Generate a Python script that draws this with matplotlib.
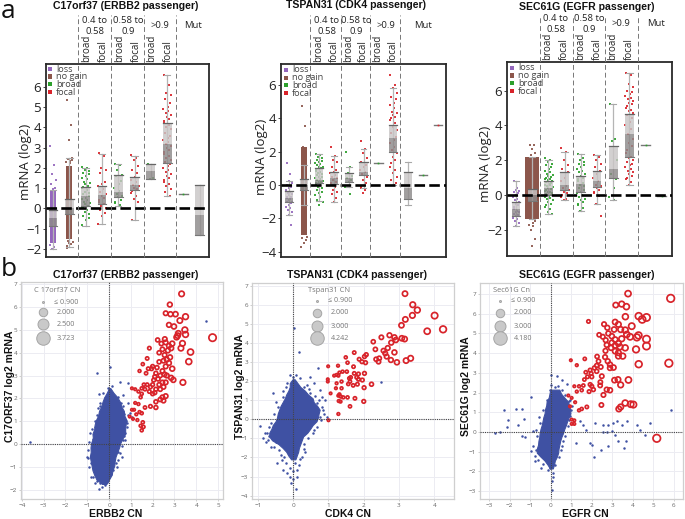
import matplotlib
matplotlib.use("Agg")
import matplotlib.pyplot as plt
from matplotlib.patches import Rectangle

plt.rcParams['font.family'] = ['Open Sans', 'DejaVu Sans']
W, H = 685, 519

PURPLE = '#9467bd'
BROWN = '#8c564b'
GREEN = '#2ca02c'
RED = '#d8232a'
BLUE = '#3f51a3'

legend_names = ['loss', 'no gain', 'broad', 'focal']
legend_colors = [PURPLE, BROWN, GREEN, RED]
group_kinds = ['broad', 'focal', 'broad', 'focal', 'broad', 'focal']
group_names = ['0.4 to\n0.58', '0.58 to\n0.9', '>0.9', 'Mut']
JITTER = [-.22, .12, -.05, .25, -.15, .2, .03, -.27, .08, -.1, .28, -.02, .16, -.19]

# box values: position, low whisker, q1, median, q3, high whisker
a1_boxes = [(0, -2.0, -.87, -.48, -.1, .9), (1, -1.9, -.28, 0, .47, 2.5), (2, -.9, .1, .6, 1.03, 2.0),
            (3, -.8, .22, .65, 1.1, 2.7), (4, .1, .55, .8, 1.65, 2.2), (5, -.6, .9, 1.15, 1.57, 2.6),
            (6, 1.47, 1.47, 1.85, 2.2, 2.2), (7, .6, 2.25, 3.2, 4.2, 6.6), (9, -1.33, -1.33, -.32, 1.15, 1.15)]
a2_boxes = [(0, -1.8, -1.05, -.8, -.35, .25), (1, -1.2, -.3, 0, .35, 1.2), (2, -.95, .1, .3, 1.0, 1.85),
            (3, -1.0, .05, .4, .8, 1.75), (4, -.1, .2, .4, .7, 1.1), (5, -.2, .6, .8, 1.35, 2.15),
            (7, 0, 2.0, 2.8, 3.6, 5.8), (8, -1.2, -.85, -.2, .75, 1.4)]
a3_boxes = [(0, -1.8, -1.2, -.8, -.4, .8), (1, -1.4, -.35, 0, .35, 2.2), (2, -1.1, 0, .4, .8, 2.0),
            (3, -.3, .3, .55, 1.3, 2.45), (4, -.9, .2, .65, 1.1, 2.35), (5, -.5, .45, .8, 1.4, 2.3),
            (6, -.3, 1.0, 1.5, 2.8, 5.25), (7, .6, 2.2, 3.5, 4.65, 7.0)]

# single value groups: position, value, colour
a1_single = [(8, .7, GREEN)]
a2_single = [(6, 1.3, GREEN), (9, .6, GREEN), (10, 3.6, RED)]
a3_single = [(8, 2.85, GREEN), (9, -.05, GREEN)]

# solid parts of the strips, too dense to read one by one: position, low, high, half width
a1_bands = [(0, -1.7, .9, .2, PURPLE), (1, -1.5, 2.1, .19, BROWN)]
a2_bands = [(1, -3.0, 2.25, .18, BROWN)]
a3_bands = [(1, -1.35, 2.2, .42, BROWN)]

a1_strips = [
    (0, PURPLE, [3.1, 2.15, 1.7, 1.4, 1.2, 1.0, .95, -1.8, -1.9, -2.0]),
    (1, BROWN, [5.35, 4.1, 3.4, 2.5, 2.45, 2.4, 2.35, 2.3, 2.25, -1.6, -1.65, -1.7, -1.75, -1.85, -1.95]),
    (2, GREEN, [2.05, 2.0, 1.9, 1.85, 1.75, 1.7, 1.6, 1.5, 1.45, 1.3, 1.25, 1.2, 1.1, 1.05, 1.0, .9, .8, .75, .7,
                .6, .5, .45, .4, .3, .25, .2, .1, .05, 0, -.1, -.2, -.3, -.4, -.5, -.6, -.85]),
    (3, RED, [2.75, 2.6, 2.0, 1.9, 1.75, 1.3, 1.2, 1.1, .95, .8, .7, .6, .5, .4, .3, .2, .1, 0, -.1, -.25, -.4, -.8]),
    (4, GREEN, [2.2, 2.15, 1.9, 1.65, 1.6, 1.35, 1.2, 1.0, .85, .7, .6, .55, .4, .3, .25, .15]),
    (5, RED, [2.65, 2.5, 2.4, 2.1, 1.9, 1.75, 1.55, 1.4, 1.3, 1.15, 1.1, 1.0, .95, .85, .75, .6, .45, .3, -.6]),
    (6, GREEN, [2.2, 1.5, 1.45]),
    (7, RED, [6.6, 6.1, 5.7, 5.6, 5.4, 5.2, 5.0, 4.9, 4.8, 4.7, 4.6, 4.5, 4.4, 4.3, 4.2, 4.1, 4.0, 3.9, 3.75, 3.6,
              3.5, 3.4, 3.3, 3.2, 3.1, 3.0, 2.9, 2.8, 2.7, 2.6, 2.5, 2.4, 2.3, 2.2, 2.1, 2.0, 1.9, 1.8, 1.7, 1.6,
              1.5, 1.4, 1.3, 1.2, 1.1, .95, .8, .6]),
]
a2_strips = [
    (0, PURPLE, [1.3, .65, .25, .1, 0, -.1, -.2, -.3, -.4, -.5, -.55, -.6, -.7, -.75, -.8, -.85, -.9, -1.0, -1.05,
                 -1.1, -1.2, -1.3, -1.4, -1.5, -1.65, -1.8, -2.4]),
    (1, BROWN, [4.75, 3.55, 2.3, -3.1, -3.2, -3.3, -3.5, -3.75]),
    (2, GREEN, [1.85, 1.8, 1.7, 1.6, 1.5, 1.45, 1.4, 1.3, 1.25, 1.2, 1.1, 1.05, 1.0, .9, .85, .8, .7, .65, .6, .5,
                .45, .4, .35, .3, .25, .2, .15, .1, .05, 0, -.1, -.2, -.3, -.4, -.5, -.6, -.75, -.9, -1.0, -1.2]),
    (3, RED, [2.25, 1.75, 1.5, 1.4, 1.1, .9, .8, .7, .6, .5, .4, .3, .2, .1, 0, -.1, -.3, -.4, -.55, -.8, -1.0]),
    (4, GREEN, [2.0, 1.1, .7, .55, .4, .3, .2, -.1, -.55]),
    (5, RED, [2.65, 2.15, 1.9, 1.6, 1.4, 1.2, 1.05, .9, .8, .65, .5, .3, .1, -.1, -.2, -.3, -.5]),
    (7, RED, [6.6, 6.0, 5.8, 5.5, 5.3, 5.15, 4.9, 4.8, 4.6, 4.4, 4.3, 4.2, 4.1, 4.0, 3.9, 3.7, 3.5, 3.3, 3.1, 2.9,
              2.7, 2.5, 2.3, 2.1, 1.9, 1.7, 1.5, 1.3, 1.1, .9, .7, .5, .3, .1, 0]),
]
a3_strips = [
    (0, PURPLE, [.8, .4, .3, .25, .2, .1, 0, -.1, -.2, -.3, -.4, -.5, -.6, -.7, -.8, -.9, -.95, -1.0, -1.1, -1.15,
                 -1.2, -1.3, -1.4, -1.5, -1.6, -1.8]),
    (1, BROWN, [2.9, 2.85, 2.65, 2.4, 2.3, -1.5, -1.6, -1.7, -1.8, -2.0, -2.5, -2.9]),
    (2, GREEN, [2.15, 2.0, 1.9, 1.8, 1.7, 1.6, 1.5, 1.4, 1.3, 1.2, 1.15, 1.1, 1.05, 1.0, .95, .9, .85, .8, .75, .7,
                .65, .6, .55, .5, .45, .4, .35, .3, .25, .2, .15, .1, .05, 0, -.05, -.1, -.15, -.2, -.3, -.4,
                -.5, -.6, -.7, -.8, -.95, -1.1]),
    (3, RED, [2.7, 2.45, 2.0, 1.75, 1.5, 1.3, 1.0, .8, .5, .4, .3, .2, .1, 0, -.1, -.2, -.3]),
    (4, GREEN, [2.35, 2.1, 2.0, 1.9, 1.8, 1.7, 1.6, 1.5, 1.4, 1.3, 1.2, 1.1, 1.0, .9, .8, .7, .6, .5, .4, .3, .2,
                .1, 0, -.1, -.2, -.3, -.4, -.5, -.6, -.75, -.9]),
    (5, RED, [2.3, 2.2, 2.0, 1.8, 1.6, 1.4, 1.2, 1.0, .8, .6, .5, .4, .3, .2, .1, -.05, -.5, -1.2]),
    (6, GREEN, [5.25, 3.2, 3.1, 2.0, 1.2, .9, .4, -.1, -.3]),
    (7, RED, [7.0, 6.9, 6.4, 6.2, 6.0, 5.9, 5.8, 5.7, 5.6, 5.5, 5.4, 5.3, 5.2, 5.1, 5.0, 4.9, 4.8, 4.7, 4.6, 4.4,
              4.2, 4.0, 3.8, 3.5, 3.2, 3.0, 2.8, 2.6, 2.4, 2.2, 2.1, 2.0, 1.9, 1.8, 1.7, 1.6, 1.5, 1.4, 1.3,
              1.2, 1.1, 1.0, .9, .75, .6]),
]

# outline of the solid blue cloud in the scatter panels: y level, left x, right x
b1_cloud_y = [2.45, 2.25, 2.05, 1.85, 1.65, 1.45, 1.25, 1.05, .85, .65, .45, .25, .05, -.15, -.35, -.55, -.75, -.95,
              -1.15, -1.35, -1.55, -1.75]
b1_cloud_l = [.0, -.1, -.22, -.3, -.36, -.46, -.5, -.6, -.66, -.68, -.76, -.74, -.82, -.85, -.84, -.88, -.84, -.8,
              -.76, -.68, -.58, -.32]
b1_cloud_r = [.06, .2, .38, .5, .56, .68, .7, .8, .76, .74, .74, .62, .52, .46, .38, .3, .26, .24, .16, .12, 0, -.12]
b2_cloud_y = [2.1, 1.9, 1.7, 1.5, 1.3, 1.1, .9, .7, .5, .3, .1, -.1, -.3, -.5, -.7, -.9, -1.1, -1.3, -1.5, -1.7,
              -1.9, -2.1]
b2_cloud_l = [-.02, -.1, -.1, -.14, -.2, -.24, -.3, -.36, -.4, -.44, -.46, -.5, -.58, -.62, -.68, -.68, -.6, -.42,
              -.3, -.2, -.14, -.06]
b2_cloud_r = [.04, .12, .2, .33, .42, .55, .58, .68, .75, .72, .7, .66, .55, .48, .4, .28, .24, .2, .16, .14, .1, .06]
b3_cloud_y = [2.15, 1.95, 1.75, 1.55, 1.35, 1.15, .95, .75, .55, .35, .15, -.05, -.25, -.45, -.65, -.85, -1.05,
              -1.25, -1.45, -1.65, -1.85]
b3_cloud_l = [-.02, -.06, -.1, -.2, -.22, -.28, -.3, -.36, -.4, -.44, -.5, -.54, -.56, -.6, -.62, -.68, -.68, -.5,
              -.3, -.16, -.04]
b3_cloud_r = [.42, .5, .66, .84, .9, .94, .96, .88, .8, .74, .66, .6, .52, .46, .42, .38, .36, .3, .2, .16, .1]

b1_blue = [(4.43, 5.37), (-.56, 3.1), (.05, 3.39), (-3.62, .09), (-.44, 2.18), (.5, 2.73), (.85, 2.66), (.66, 2.15),
           (.89, 1.78), (.96, 1.35), (.81, .76), (.73, .18), (-1.02, -.56), (-.84, -.85), (-.64, -1.73), (-.46, -1.99),
           (-.34, -1.87), (-.11, -1.65), (.2, -1.14), (.58, -.56), (-.64, .76), (-.49, 1.56), (-.26, 2.22), (-.03, 2.44),
           (.12, 2.54), (.43, 2.08), (-.84, -1.43), (.35, -.99), (.43, -.34), (.66, .18), (1.04, 1.2), (-.87, .47),
           (-.95, -.26), (-.18, -1.8), (.7, 1.3), (.8, 1.0), (.75, .5), (-.75, .2), (-.65, 1.0), (.05, 2.2), (.3, 1.9),
           (-.4, 1.8), (-.2, 2.0), (-.7, -1.1), (-.55, -1.6), (-.4, -1.7), (.1, -1.3), (.55, 1.8), (.85, 1.25),
           (.6, -.1), (.5, -.4), (.4, -.7), (.3, -.85), (-.9, .1), (-.8, .65), (-.55, 1.25), (-.4, 1.65), (-.95, -.6),
           (-.9, -1.0), (-.72, -1.45), (-.05, -1.55), (.15, -1.1), (.62, 1.65), (.82, .9), (.7, .35)]
b2_blue = [(.02, 4.77), (.17, 3.55), (.71, 2.67), (2.48, 1.98), (-.57, 1.36), (-.93, -.35), (.47, 2.24), (.38, 1.8),
           (.59, 1.89), (.76, 1.54), (.81, 1.19), (.9, 1.0), (.85, .49), (.95, .14), (-.85, -1), (-.76, -1.17),
           (-.62, -1.43), (-.47, -2.3), (-.28, -2.65), (-.19, -2.83), (-.05, -3.35), (.07, -3.67), (.1, -3), (-.1, -2.57),
           (.05, -2.3), (-.33, -2.13), (.24, -1.96), (0, 2.24), (-.1, 2.33), (.08, 2.33), (.19, 2.15), (-.28, 1.19),
           (-.43, .66), (-.62, -.2), (-.74, -.73), (.66, -.38), (.57, -.73), (.33, -1.7), (-.19, 1.89), (.47, 1.36),
           (.68, .84), (.76, .14), (-.7, -.9), (-.5, -1.2), (-.4, -1.6), (.3, -1.3), (-.25, -2.0), (.15, -2.4),
           (.62, 1.2), (.72, 1.0), (.82, .65), (.86, .3), (.78, -.05), (.6, -.55), (.42, -1.0), (.3, -1.55), (.2, -2.1),
           (-.5, .9), (-.55, .3), (-.7, -.4), (-.8, -.7), (-.72, -1.1), (-.55, -1.45), (-.35, -1.85), (-.2, -2.3),
           (-.3, 1.5), (-.2, 1.7), (.3, 1.7), (.45, 1.6), (0, -2.7), (.1, -2.65), (-.1, -3.05), (.0, -3.15)]
b3_blue = [(-.96, 1.78), (-2.28, 1.14), (-1.69, 1.19), (-1.41, 1.15), (-2.07, .63), (-1.28, .66), (-1.58, .34),
           (-2.15, .24), (-2.72, -.03), (-2.49, 0), (-1.41, -.22), (-1.25, -.27), (-.85, .03), (0, 2.9), (.29, 2.86),
           (.57, 2.66), (.37, 2.32), (.78, 2.41), (5.85, 1.14), (1.43, .54), (1.59, .37), (1.71, .12), (2.16, .46),
           (2.57, .37), (2.81, .37), (3.06, .46), (3.25, .54), (3.46, .37), (3.74, .54), (4.2, .37), (4.85, .46),
           (4.33, .12), (4.6, -.14), (2.57, 0), (2.73, 0), (3.01, .03), (3.11, -.14), (3.3, -.47), (3.67, -.44),
           (3.59, -.81), (2.81, -.73), (2.46, -.93), (2.11, -1.29), (1.92, -.56), (1.22, -.56), (2.03, -.64),
           (-.98, -.98), (-.76, -1.49), (-.49, -1.83), (.05, -2.93), (.05, -2.51), (-.03, -1.83), (.13, -2.08),
           (.94, 1.64), (1.02, 1.3), (.94, .8), (.86, .29), (.7, -.22), (.54, -.73), (-.85, -.73), (-.68, -.22),
           (-.52, .46), (-.36, 1.14), (-.2, 1.64), (-.03, 2.15), (.55, 2.15), (.7, 1.9), (.9, 1.55), (1.0, 1.1),
           (.9, .6), (.62, -.45), (.5, -.9), (.42, -1.25), (-.72, -.9), (-.78, -1.2), (-.62, -1.4), (-.4, -1.6),
           (-.7, .1), (-.55, .75), (.2, -1.7), (-.12, -1.95), (.1, -2.3), (.0, 2.4), (.2, 2.3)]

b1_red = [(3.33, 6.58), (2.79, 6.11), (2.6, 5.73), (2.82, 5.69), (3.05, 5.69), (3.51, 5.58), (3.25, 5.41), (2.75, 5.22),
          (2.98, 5.15), (3.48, 5.0), (3.18, 4.85), (3.51, 4.8), (4.75, 4.66), (2.23, 4.56), (2.56, 4.6), (3.1, 4.68),
          (3.37, 4.41), (3.3, 4.2), (3.74, 4.03), (3.66, 3.61), (2.95, 2.81), (3.39, 2.7), (2.4, 4.4), (2.6, 4.45),
          (2.75, 4.3), (2.9, 4.4), (3.15, 4.75), (2.45, 4.15), (2.7, 4.1), (2.85, 4.2), (1.85, 4.2), (2.3, 4.0),
          (2.55, 3.9), (2.8, 3.8), (1.75, 3.75), (2.65, 3.7), (2.5, 3.65), (2.75, 3.55), (2.3, 3.6), (2.9, 3.3),
          (2.6, 3.4), (2.45, 3.2), (2.2, 3.35), (2.0, 3.4), (1.55, 3.5), (1.95, 3.3), (2.15, 3.1), (2.35, 3.0),
          (2.55, 3.05), (2.1, 2.95), (1.8, 3.3), (1.4, 3.2), (1.7, 3.1), (2.05, 2.8), (2.25, 2.85), (2.45, 2.7),
          (2.0, 2.6), (2.65, 3.0), (2.3, 2.6), (2.5, 2.5), (2.85, 2.9), (2.6, 2.7), (2.15, 2.4), (1.9, 2.5),
          (2.35, 2.4), (2.1, 2.25), (1.85, 2.3), (1.65, 2.4), (1.5, 2.2), (1.35, 2.3), (1.2, 2.4), (1.05, 2.44),
          (1.5, 2.44), (1.45, 2.05), (1.6, 2.6), (1.75, 2.6), (2.0, 2.2), (2.45, 2.05), (2.6, 2.1), (2.35, 1.95),
          (2.5, 1.9), (2.15, 1.85), (1.9, 1.65), (2.15, 1.6), (1.65, 1.6), (1.2, 1.8), (1.35, 1.75), (1.15, 1.5),
          (1.05, 1.5), (1.5, 1.35), (1.4, 1.4), (1.25, 1.3), (.95, 1.2), (1.1, 1.1), (1.55, .95), (1.58, .75),
          (1.45, .8), (1.5, .6), (1.3, 1.05)]
b2_red = [(3.17, 6.59), (3.39, 6.01), (3.52, 5.73), (3.38, 5.45), (4.01, 5.44), (3.18, 5.24), (3.07, 4.93), (4.25, 4.72),
          (3.8, 4.62), (2.73, 4.41), (2.5, 4.3), (2.27, 4.07), (2.87, 4.3), (3.08, 4.25), (3.16, 4.21), (2.91, 4.16),
          (2.78, 4.02), (2.33, 3.67), (2.68, 3.74), (2.56, 3.6), (2.61, 3.46), (2.87, 3.51), (2.65, 3.29), (2.44, 3.2),
          (2.35, 3.15), (2.42, 3.02), (2.77, 3.11), (2.94, 2.99), (3.2, 3.08), (3.33, 3.2), (1.73, 3.5), (1.49, 3.25),
          (2.07, 3.39), (2.02, 3.29), (1.87, 3.15), (1.95, 3.02), (2.05, 2.97), (1.54, 2.97), (1.27, 2.81), (.99, 2.78),
          (1.71, 2.76), (1.4, 2.5), (1.52, 2.5), (1.31, 2.45), (1.73, 2.41), (1.85, 2.38), (2.02, 2.41), (1.23, 2.33),
          (1.16, 2.29), (1.28, 2.29), (1.63, 2.2), (1.8, 2.2), (1.85, 2.1), (1.59, 2.15), (1.96, 2.06), (.98, 2.1),
          (.98, 1.98), (1.37, 1.98), (1.61, 1.98), (1.23, 1.89), (1.56, 1.85), (1.7, 1.78), (1.82, 1.84), (2.22, 1.84),
          (1.21, 1.63), (2.01, 1.66), (1.37, 1.63), (1.06, 1.36), (1.31, 1.31), (1.28, 1.24), (1.35, 1.19), (1.42, 1.15),
          (1.54, 1.15), (1.75, 1.1), (1.29, .96), (1.34, .93), (2.0, .94), (1.61, .68), (1.28, .28), (1.0, -.05)]
b3_red = [(3.77, 7.02), (3.17, 6.44), (3.46, 6.49), (3.69, 6.36), (5.85, 6.78), (4.29, 5.88), (4.46, 5.71), (4.67, 5.81),
          (3.64, 5.85), (1.84, 5.61), (2.6, 5.47), (3.14, 5.58), (3.3, 5.46), (2.76, 5.29), (3.41, 5.2), (3.95, 5.37),
          (3.09, 5.2), (3.63, 5.17), (2.81, 5.0), (2.36, 4.93), (2.54, 4.83), (2.98, 4.86), (3.71, 4.95), (3.87, 4.83),
          (4.2, 4.8), (4.28, 4.9), (4.67, 4.71), (4.67, 4.36), (2.68, 4.66), (3.14, 4.69), (3.46, 4.73), (2.73, 4.42),
          (2.98, 4.53), (3.3, 4.49), (3.14, 4.39), (2.94, 4.27), (3.38, 4.32), (3.63, 4.27), (4.16, 4.19), (2.67, 4.12),
          (3.14, 4.1), (3.3, 4.02), (3.51, 3.85), (3.3, 3.85), (2.26, 3.83), (1.66, 3.71), (2.65, 3.8), (2.78, 3.59),
          (4.29, 3.44), (5.76, 3.49), (2.89, 3.42), (3.06, 3.27), (1.27, 3.39), (.98, 3.64), (2.33, 3.59), (2.24, 3.37),
          (2.44, 3.3), (2.89, 3.25), (2.13, 3.25), (1.92, 3.14), (2.24, 3.08), (1.71, 3.03), (1.97, 2.97), (1.79, 2.8),
          (2.0, 2.8), (2.49, 2.83), (1.64, 2.66), (3.11, 2.63), (3.28, 2.66), (3.79, 2.64), (1.92, 2.41), (2.42, 2.53),
          (3.41, 2.39), (1.15, 2.32), (1.38, 2.32), (1.59, 2.36), (2, 2.32), (2.41, 2.36), (2.73, 2.15), (2.89, 2.12),
          (1.51, 2.12), (1.27, 2.05), (1.87, 2.05), (2.08, 2.15), (2.57, 1.88), (.86, 1.85), (1.02, 1.73), (1.19, 1.51),
          (3.63, 1.47), (3.9, 1.41), (4.03, 1.39), (2.47, 1.37), (1.76, 1.27), (1.51, 1.17), (1.38, 1.1), (3.41, 1.27),
          (3.32, 1.17), (.94, 1.3), (1.02, .63), (1.15, .59), (1.02, .41), (1.15, .41), (5.17, -.32)]

a_titles = ['C17orf37 (ERBB2 passenger)', 'TSPAN31 (CDK4 passenger)', 'SEC61G (EGFR passenger)']
b_xlabels = ['ERBB2 CN', 'CDK4 CN', 'EGFR CN']
b_ylabels = ['C17ORF37 log2 mRNA', 'TSPAN31 log2 mRNA', 'SEC61G log2 mRNA']
b_legend_titles = ['C 17orf37 CN', 'Tspan31 CN', 'Sec61G Cn']
b_legend_values = [['≤ 0.900', '2.000', '2.500', '3.723'], ['≤ 0.900', '2.000', '3.000', '4.242'],
                   ['≤ 0.900', '2.000', '3.000', '4.180']]

fig = plt.figure(figsize=(W / 100, H / 100), dpi=100)


def px_axes(x0, y0, x1, y1):  # axes from pixel box, y measured from the top
    return fig.add_axes([x0 / W, 1 - y1 / H, (x1 - x0) / W, (y1 - y0) / H])


def fx(x):
    return x / W


def fy(y):
    return 1 - y / H


def box_panel(box, ylim, xlim, yticks, boxes, single, bands, strips, seps, cols, title, title_x, title_y, ylab, legend_x,
              legend_y, head_y, mut_x):
    ax = px_axes(*box)
    ax.set_xlim(*xlim)
    ax.set_ylim(*ylim)
    for pos, lo, hi, half, col in bands:
        ax.add_patch(Rectangle((pos - half, lo), 2 * half, hi - lo, color=col, lw=0, zorder=1))
    for pos, col, vals in strips:
        spread = 0.9 if col in (GREEN, RED) else 0.7
        for i, v in enumerate(vals):
            ax.plot(pos + spread * JITTER[i % len(JITTER)], v, 's', color=col, ms=1.7, mew=0, alpha=.9, zorder=2)
    for pos, wlo, q1, med, q3, whi in boxes:
        ax.plot([pos, pos], [wlo, whi], color='#b5b5b5', lw=.9, zorder=3)
        ax.plot([pos - .2, pos + .2], [whi, whi], color='#a8a8a8', lw=.8, zorder=3)
        ax.plot([pos - .2, pos + .2], [wlo, wlo], color='#a8a8a8', lw=.8, zorder=3)
        ax.bar(pos, q3 - med, .54, med, color='#c9c6c6', alpha=.82, lw=0, zorder=4)
        ax.bar(pos, med - q1, .54, q1, color='#8d8a8a', alpha=.82, lw=0, zorder=4)
        ax.plot([pos - .27, pos + .27], [q3, q3], color='#666666', lw=.9, zorder=5)
        ax.plot([pos - .27, pos + .27], [q1, q1], color='#777777', lw=.8, zorder=5)
    for pos, val, col in single:
        ax.plot([pos - .28, pos + .28], [val, val], color='#777777', lw=1, zorder=5)
        ax.plot(pos, val, 's', color=col, ms=1.2, mew=0, zorder=6)
    ax.plot(xlim, [0, 0], color='black', lw=1.9, dashes=(4, 1.6), zorder=7)
    for s in ax.spines.values():
        s.set_linewidth(1.3)
        s.set_color('#2a2a2a')
    ax.set_xticks([])
    ax.set_yticks(yticks)
    ax.tick_params(axis='y', labelsize=9.5, length=2, width=.7, pad=1.5, color='#444444', labelcolor='#222222')
    # separators carry on above the box
    for s in seps:
        fig.add_artist(plt.Line2D([fx(s), fx(s)], [fy(box[3]), fy(15)], color='#777777', lw=.7, dashes=(5, 3)))
    # group and kind headers
    for i, name in enumerate(group_kinds):
        fig.text(fx(cols[i]), fy(box[1] - 2), name, rotation=90, ha='center', va='bottom', fontsize=7, color='#222222')
    heads = [(cols[0] + cols[1]) / 2, (cols[2] + cols[3]) / 2, (cols[4] + cols[5]) / 2, mut_x]
    for hx, name in zip(heads, group_names):
        fig.text(fx(hx), fy(head_y), name, ha='center', va='center', fontsize=6.8, color='#222222', linespacing=1.3)
    fig.text(fx(title_x), fy(title_y), title, ha='center', va='center', fontsize=7.6, fontweight='bold',
             family='Liberation Sans', color='#111111')
    fig.text(fx(ylab[0]), fy(ylab[1]), 'mRNA (log2)', rotation=90, ha='center', va='center', fontsize=9.5,
             color='#222222')
    for i, (name, col) in enumerate(zip(legend_names, legend_colors)):
        ly = legend_y + i * 7.7
        fig.add_artist(Rectangle((fx(legend_x), fy(ly + 2)), 4.2 / W, 4.2 / H, color=col, lw=0,
                                 transform=fig.transFigure, zorder=9))
        fig.text(fx(legend_x + 8), fy(ly), name, ha='left', va='center', fontsize=6.6, color='#444444', zorder=9)
    return ax


box_panel((46, 64, 209, 257), (-2.41, 7.14), (-.43, 9.57), [-2, -1, 0, 1, 2, 3, 4, 5, 6], a1_boxes, a1_single, a1_bands,
          a1_strips, [78, 111, 144, 176], [87, 103, 120, 136, 152, 168], a_titles[0], 126, 6, (26, 162), 48, 69, 26, 193)
box_panel((281, 64, 446, 257), (-4.33, 7.26), (-.54, 10.54), [-4, -2, 0, 2, 4, 6], a2_boxes, a2_single, a2_bands,
          a2_strips, [310, 341, 370, 400], [319, 334, 349, 363, 378, 393], a_titles[1], 356, 5, (261, 157), 284, 70, 26, 423)
box_panel((507, 62, 672, 256), (-3.5, 7.64), (-.56, 9.63), [-2, 0, 2, 4, 6], a3_boxes, a3_single, a3_bands,
          a3_strips, [540, 573, 605, 638], [548, 564, 581, 597, 613, 629], a_titles[2], 587, 7, (486, 164), 510, 68, 24, 656)


def red_diam(cn):  # ring size grows with copy number
    return max(2.4, min(7.5, .9 + 1.35 * cn))


def scatter_panel(box, xlim, ylim, xticks, yticks, cloud, blue, red, idx, ttl_x, xlab_x, ylab_x, leg):
    ax = px_axes(*box)
    ax.set_xlim(*xlim)
    ax.set_ylim(*ylim)
    ax.set_axisbelow(True)
    ax.grid(color='#ececf2', lw=.7)
    for s in ax.spines.values():
        s.set_color('#cfcfcf')
        s.set_linewidth(.9)
    ax.set_xticks(xticks)
    ax.set_yticks(yticks)
    ax.tick_params(labelsize=4.6, length=1.5, width=.5, color='#bbbbbb', labelcolor='#666666', pad=1.2)
    ax.axhline(0, color='#444444', lw=.8, ls=(0, (1, 1)), zorder=6)
    ax.axvline(0, color='#444444', lw=.8, ls=(0, (1, 1)), zorder=6)
    ax.fill_betweenx(cloud[0], cloud[1], cloud[2], color=BLUE, lw=.8, zorder=3)
    bx, by = zip(*blue)
    ax.scatter(bx, by, s=3.2, color=BLUE, lw=0, zorder=4)
    rx, ry = zip(*red)
    sizes = [(red_diam(v) * .72) ** 2 for v in rx]
    ax.scatter(rx, ry, s=sizes, facecolor='none', edgecolor=RED, lw=1.25, zorder=5)
    fig.text(fx(ttl_x), fy(275), a_titles[idx], ha='center', va='center', fontsize=7.6, fontweight='bold',
             family='Liberation Sans', color='#111111')
    fig.text(fx(xlab_x), fy(514), b_xlabels[idx], ha='center', va='center', fontsize=7.5, fontweight='bold',
             family='Liberation Sans', color='#111111')
    fig.text(fx(ylab_x), fy(386), b_ylabels[idx], rotation=90, ha='center', va='center', fontsize=7.5, fontweight='bold',
             family='Liberation Sans', color='#111111')
    cx, tx, title_x, ty0, rows = leg
    fig.text(fx(title_x), fy(ty0), b_legend_titles[idx], ha='center', va='center', fontsize=5.4, color='#777777')
    for (ry_, d), val in zip(rows, b_legend_values[idx]):
        ax.scatter([fx(cx)], [fy(ry_)], s=(d * .72) ** 2, transform=fig.transFigure, facecolor='#c9c9c9',
                   edgecolor='#a5a5a5', lw=.7, clip_on=False, zorder=8)
        fig.text(fx(tx), fy(ry_), val, ha='center', va='center', fontsize=5.2, color='#777777')


scatter_panel((21, 282, 223, 499), (-4.04, 5.23), (-2.41, 7.1), [-4, -3, -2, -1, 0, 1, 2, 3, 4, 5],
              [-2, -1, 0, 1, 2, 3, 4, 5, 6, 7], (b1_cloud_y, b1_cloud_l, b1_cloud_r), b1_blue, b1_red, 0, 126, 116, 10,
              (43, 66, 57, 291, [(302, 2), (312, 8.5), (324, 11), (338, 13.5)]))
scatter_panel((252, 283, 454, 499), (-1.17, 4.56), (-4.18, 7.15), [-1, 0, 1, 2, 3, 4],
              [-4, -3, -2, -1, 0, 1, 2, 3, 4, 5, 6, 7], (b2_cloud_y, b2_cloud_l, b2_cloud_r), b2_blue, b2_red, 1, 357, 348, 240,
              (317, 340, 329, 291, [(301, 2), (313, 8.5), (326, 11), (338, 13.5)]))
scatter_panel((480, 283, 683, 499), (-3.45, 6.45), (-3.4, 7.56), [-3, -2, -1, 0, 1, 2, 3, 4, 5, 6],
              [-3, -2, -1, 0, 1, 2, 3, 4, 5, 6, 7], (b3_cloud_y, b3_cloud_l, b3_cloud_r), b3_blue, b3_red, 2, 587, 585, 466,
              (500, 523, 512, 291, [(301, 2), (313, 8.5), (326, 11), (338, 13.5)]))

fig.text(fx(1), fy(12), 'a', ha='left', va='center', fontsize=19, color='#111111')
fig.text(fx(1), fy(269), 'b', ha='left', va='center', fontsize=19, color='#111111')

fig.savefig('out.png', dpi=100)
